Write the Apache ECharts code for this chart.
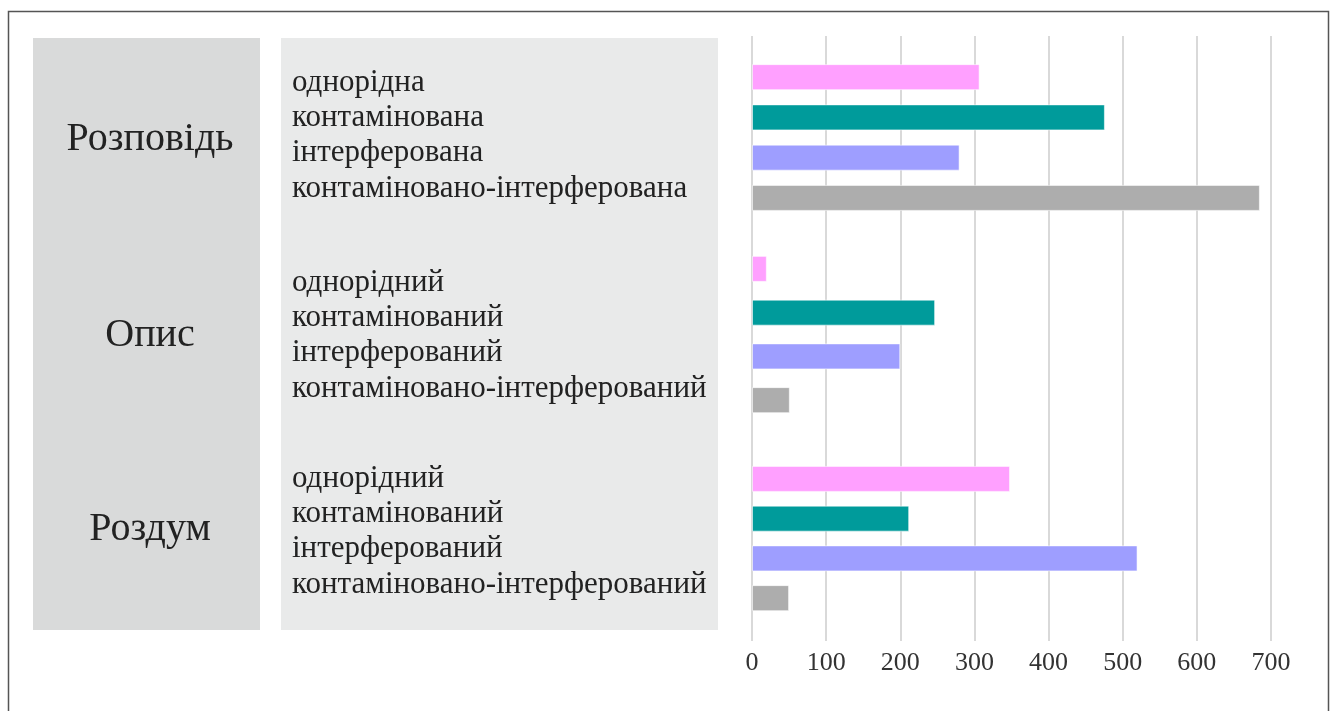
<!DOCTYPE html>
<html>
<head>
<meta charset="utf-8">
<script src="https://cdn.jsdelivr.net/npm/echarts@6/dist/echarts.min.js"></script>
<style>
  html, body { margin: 0; padding: 0; background: #ffffff; }
  #chart { width: 1336px; height: 711px; }
</style>
</head>
<body>
<div id="chart"></div>
<script>
// Text genres and their composition types
const groupNames = ['Розповідь', 'Опис', 'Роздум'];
const rowsRozpovid = ['однорідна', 'контамінована', 'інтерферована', 'контаміновано-інтерферована'];
const rowsOpys = ['однорідний', 'контамінований', 'інтерферований', 'контаміновано-інтерферований'];
const rowsRozdum = ['однорідний', 'контамінований', 'інтерферований', 'контаміновано-інтерферований'];

// Counts per composition type
const valuesRozpovid = [307, 476, 280, 685];
const valuesOpys = [20, 247, 200, 51];
const valuesRozdum = [348, 212, 520, 50];

// Value axis ticks
const axisMin = 0;
const axisMax = 700;
const axisStep = 100;

const barColors = ['#ffa0ff', '#009b9b', '#9e9eff', '#adadad'];
const serif = '"Liberation Serif", "DejaVu Serif", serif';

const groups = [
  { name: groupNames[0], rows: rowsRozpovid, values: valuesRozpovid },
  { name: groupNames[1], rows: rowsOpys, values: valuesOpys },
  { name: groupNames[2], rows: rowsRozdum, values: valuesRozdum }
];

// Vertical placement of each group's bars (grid top/bottom in px)
const groupGrids = [
  { top: 57, bottom: 711 - 218 },
  { top: 247, bottom: 711 - 422 },
  { top: 459, bottom: 711 - 618 }
];
// Name and row-label placement of each group
const groupNameY = [139, 335, 529];
const rowTextTop = [65, 265, 461];

const chart = echarts.init(document.getElementById('chart'), null, { renderer: 'canvas' });

const grids = [{ left: 752, right: 65, top: 36, bottom: 70 }];
const xAxes = [{
  gridIndex: 0, type: 'value', min: axisMin, max: axisMax, interval: axisStep,
  axisLine: { show: false }, axisTick: { show: false },
  splitLine: { show: true, lineStyle: { color: '#d9d9d9', width: 2 } },
  axisLabel: { fontFamily: serif, fontSize: 26, color: '#333', margin: 9 }
}];
const yAxes = [{ gridIndex: 0, type: 'value', show: false }];
const series = [];

groups.forEach((g, i) => {
  grids.push({ left: 752, right: 65, top: groupGrids[i].top, bottom: groupGrids[i].bottom });
  xAxes.push({ gridIndex: i + 1, type: 'value', min: axisMin, max: axisMax, show: false, splitLine: { show: false } });
  yAxes.push({ gridIndex: i + 1, type: 'category', inverse: true, data: g.rows, show: false, boundaryGap: true });
  series.push({
    type: 'bar',
    xAxisIndex: i + 1,
    yAxisIndex: i + 1,
    barWidth: 26,
    silent: true,
    data: g.values.map((v, k) => ({
      value: v,
      itemStyle: { color: barColors[k], borderColor: 'rgba(255,255,255,0.55)', borderWidth: 1 }
    }))
  });
});

const graphics = [
  // outer frame
  { type: 'rect', shape: { x: 8.5, y: 11.5, width: 1320, height: 720 }, style: { fill: 'none', stroke: '#555', lineWidth: 1.5 }, z: -10 },
  // genre column
  { type: 'rect', shape: { x: 33, y: 38, width: 227, height: 592 }, style: { fill: '#d9dada' }, z: -9 },
  // composition column
  { type: 'rect', shape: { x: 281, y: 38, width: 437, height: 592 }, style: { fill: '#e9eaea' }, z: -9 }
];
groups.forEach((g, i) => {
  graphics.push({
    type: 'text', x: 150, y: groupNameY[i], z: 5,
    style: { text: g.name, fontFamily: serif, fontSize: 40, fill: '#222', align: 'center', verticalAlign: 'middle' }
  });
  graphics.push({
    type: 'text', x: 292, y: rowTextTop[i], z: 5,
    style: { text: g.rows.join('\n'), fontFamily: serif, fontSize: 31, lineHeight: 35.3, fill: '#222', align: 'left', verticalAlign: 'top' }
  });
});

chart.setOption({
  backgroundColor: '#ffffff',
  animation: false,
  grid: grids,
  xAxis: xAxes,
  yAxis: yAxes,
  graphic: graphics,
  series: series
});
</script>
</body>
</html>
